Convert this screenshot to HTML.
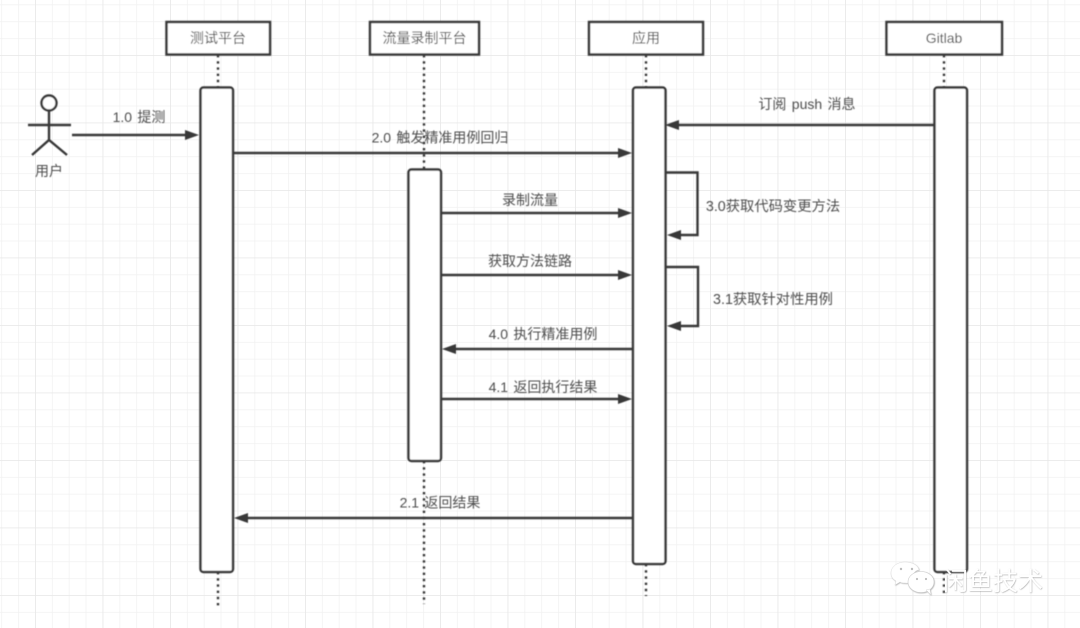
<!DOCTYPE html>
<html lang="zh">
<head>
<meta charset="utf-8">
<style>
html,body{margin:0;padding:0;width:1080px;height:628px;overflow:hidden;background:#fff}
svg{display:block}
text{font-family:"Liberation Sans","Noto Sans CJK SC",sans-serif;font-size:14px;fill:#4d4d4d;text-anchor:middle;word-spacing:1.500px}
.b{fill:#fff;stroke:#383838;stroke-width:2.500}
.l{fill:none;stroke:#383838;stroke-width:2.400}
.d{fill:none;stroke:#383838;stroke-width:2.400;stroke-dasharray:2.400 3.800}
.h{fill:#383838;stroke:none}
</style>
</head>
<body>
<svg width="1080" height="628" viewBox="0 0 1080 628" xmlns="http://www.w3.org/2000/svg">
<defs>
<pattern id="m" width="16.875" height="16.875" patternUnits="userSpaceOnUse" x="1.25" y="4.4">
<path d="M0 0H16.875M0 0V16.875" fill="none" stroke="#f1f1f1" stroke-width="1.500"/>
</pattern>
<pattern id="M" width="67.5" height="67.5" patternUnits="userSpaceOnUse" x="35" y="55">
<path d="M0 0H67.5M0 0V67.5" fill="none" stroke="#e8e8e8" stroke-width="1.600"/>
</pattern>
<filter id="s" x="-5%" y="-5%" width="110%" height="110%"><feGaussianBlur stdDeviation="0.4"/></filter>
<filter id="w" x="-10%" y="-10%" width="120%" height="130%"><feDropShadow dx="0.5" dy="0.6" stdDeviation="0.4" flood-color="#999" flood-opacity="0.8"/></filter>
</defs>
<rect width="1080" height="628" fill="#fff"/>
<rect width="1080" height="628" fill="url(#m)"/>
<rect width="1080" height="628" fill="url(#M)"/>

<g filter="url(#s)">
<!-- lifelines -->
<path class="d" d="M218 55V87M218 572V608"/>
<path class="d" d="M424 55V169M424 461V604"/>
<path class="d" d="M646 55V87M646 564V596"/>
<path class="d" d="M944 55V87M944 572V596"/>

<!-- headers -->
<rect class="b" x="166.5" y="22" width="103.5" height="32.5"/>
<rect class="b" x="370" y="22" width="109" height="32.5"/>
<rect class="b" x="589" y="22" width="114" height="32.5"/>
<rect class="b" x="886.500" y="22" width="115.500" height="32.5"/>
<text x="218" y="43">测试平台</text>
<text x="424.500" y="43">流量录制平台</text>
<text x="646" y="43">应用</text>
<text x="944" y="43">Gitlab</text>

<!-- activations -->
<rect class="b" x="200.500" y="87.500" width="32.500" height="484.500" rx="3"/>
<rect class="b" x="408.500" y="169.500" width="32.500" height="291.500" rx="3"/>
<rect class="b" x="633" y="87.500" width="32.500" height="476.500" rx="3"/>
<rect class="b" x="934.500" y="87.500" width="32.500" height="484.500" rx="3"/>

<!-- actor -->
<circle cx="49" cy="103" r="7.500" fill="#fff" stroke="#383838" stroke-width="2.400"/>
<path class="l" d="M49 110.500V140M28 125H71M32 155L49 140L67 155"/>
<text x="49" y="176">用户</text>

<!-- messages -->
<path class="l" d="M72 135H188"/><path class="h" d="M199 135L185 130V140Z"/>
<text x="139" y="122">1.0 提测</text>

<path class="l" d="M233 153H620"/><path class="h" d="M632 153L618 148V158Z"/>
<text x="440" y="142.500">2.0 触发精准用例回归</text>

<path class="l" d="M934 125H676"/><path class="h" d="M665 125L679 120V130Z"/>
<text x="807" y="109">订阅 push 消息</text>

<path class="l" d="M441 213H620"/><path class="h" d="M632 213L618 208V218Z"/>
<text x="530" y="205">录制流量</text>

<path class="l" d="M441 275H620"/><path class="h" d="M632 275L618 270V280Z"/>
<text x="530" y="266">获取方法链路</text>

<path class="l" d="M632 349H454"/><path class="h" d="M442 349L456 344V354Z"/>
<text x="543" y="339">4.0 执行精准用例</text>

<path class="l" d="M441 399H620"/><path class="h" d="M632 399L618 394V404Z"/>
<text x="543" y="392">4.1 返回执行结果</text>

<path class="l" d="M632 518H245"/><path class="h" d="M234 518L248 513V523Z"/>
<text x="440" y="507.500">2.1 返回结果</text>

<path class="l" d="M666 172.500H697.500V235H678"/><path class="h" d="M667 235L681 230V240Z"/>
<text x="773" y="211" style="font-size:14.300px">3.0获取代码变更方法</text>

<path class="l" d="M666 267H698V326H678"/><path class="h" d="M667 326L681 321V331Z"/>
<text x="773" y="304" style="font-size:14.300px">3.1获取针对性用例</text>
</g>

<!-- watermark -->
<g filter="url(#w)">
<path d="M905 562c-8 0-14 5-14 11 0 4 2 6 5 8l-1 4 5-3c2 1 3 1 5 1 5 1 8-3 8-7 0-3 3-6 6-6-1-5-7-8-14-8Z" fill="#fff" stroke="#ddd" stroke-width="0.5"/>
<ellipse cx="921" cy="582" rx="13" ry="10.500" fill="#fff" stroke="#ccc" stroke-width="0.6"/>
<path d="M926 590l5 5-1-6Z" fill="#fff" stroke="#ccc" stroke-width="0.4"/>
<circle cx="901" cy="569" r="1.200" fill="#bbb"/><circle cx="912" cy="569" r="1.200" fill="#bbb"/>
<circle cx="917" cy="579" r="1.100" fill="#bbb"/><circle cx="926" cy="579" r="1.100" fill="#bbb"/>
<text x="993" y="590" style="font-size:25px;fill:#fff;word-spacing:0">闲鱼技术</text>
</g>
</svg>
</body>
</html>
